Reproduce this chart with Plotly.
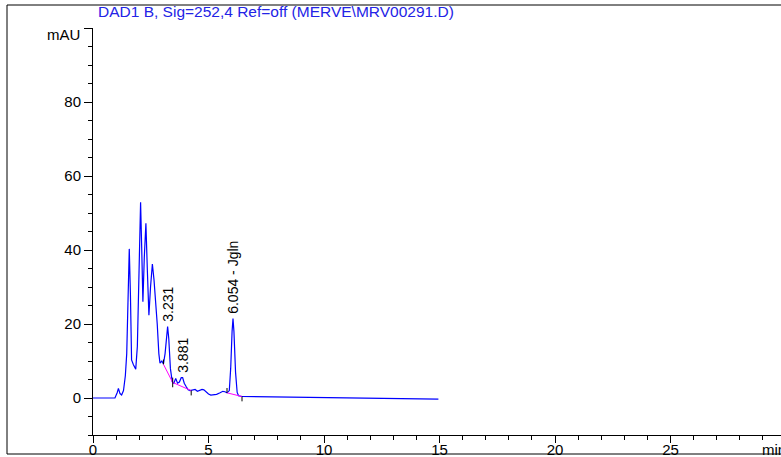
import plotly.graph_objects as go

# Chromatogram trace (retention time in min, signal in mAU)
time_min = [0.0, 0.95, 1.05, 1.10, 1.17, 1.24, 1.32, 1.40, 1.46, 1.52, 1.57, 1.62, 1.67, 1.75,
            1.85, 1.92, 2.00, 2.06, 2.11, 2.16, 2.22, 2.29, 2.35, 2.42, 2.49, 2.57, 2.64, 2.73,
            2.78, 2.85, 2.90, 2.98, 3.05, 3.12, 3.18, 3.23, 3.28, 3.35, 3.43, 3.50, 3.58, 3.66,
            3.74, 3.82, 3.88, 3.95, 4.03, 4.12, 4.20, 4.30, 4.42, 4.52, 4.63, 4.72, 4.80, 4.90,
            5.00, 5.10, 5.20, 5.35, 5.50, 5.62, 5.71, 5.80, 5.90, 5.96, 6.02, 6.06, 6.10, 6.17,
            6.24, 6.30, 6.45, 7.0, 8.0, 9.0, 10.0, 11.0, 12.0, 13.0, 14.0, 14.95]
signal_mau = [0.0, 0.0, 1.5, 2.6, 1.2, 0.8, 2.0, 6.0, 12.0, 30.0, 40.3, 28.0, 10.3, 9.0,
              7.8, 14.0, 35.0, 52.9, 40.0, 26.0, 38.0, 47.2, 35.0, 22.4, 30.0, 36.2, 32.0, 25.6,
              20.0, 12.0, 9.4, 10.0, 9.2, 12.0, 17.5, 19.3, 16.0, 8.0, 4.4, 4.0, 5.3, 4.0,
              4.3, 5.5, 5.5, 4.0, 3.1, 2.2, 2.0, 2.1, 2.3, 1.8, 2.0, 2.3, 2.2, 1.6,
              1.1, 0.8, 0.8, 1.0, 1.4, 1.8, 1.7, 1.4, 2.0, 8.0, 18.0, 21.5, 18.0, 7.0,
              1.5, 0.6, 0.4, 0.35, 0.3, 0.15, 0.05, 0.0, -0.1, -0.2, -0.25, -0.3]

# Integration baselines (magenta): start/end points of each baseline segment
base_t0 = [3.05, 3.45, 5.80]
base_v0 = [9.1, 4.2, 1.4]
base_t1 = [3.45, 4.25, 6.45]
base_v1 = [4.2, 2.0, 0.4]

# Labelled peaks
peak_rt = [3.231, 3.881, 6.054]
peak_height = [19.3, 5.5, 21.5]
peak_labels = ["3.231", "3.881", "6.054 - Jgln"]

title_text = "DAD1 B, Sig=252,4 Ref=off (MERVE\\MRV00291.D)"
y_tickvals = [0, 20, 40, 60, 80, 100]
y_ticktext = ["0", "20", "40", "60", "80", ""]
x_tickvals = [0, 5, 10, 15, 20, 25]

FONT = "Liberation Sans, Arial, sans-serif"

fig = go.Figure()

fig.add_trace(go.Scatter(x=time_min, y=signal_mau, mode="lines",
                         line=dict(color="#0000ff", width=1.2), hoverinfo="skip"))

# baselines
bx, by = [], []
for a, b, c, d in zip(base_t0, base_v0, base_t1, base_v1):
    bx += [a, c, None]
    by += [b, d, None]
fig.add_trace(go.Scatter(x=bx, y=by, mode="lines",
                         line=dict(color="#ff00ff", width=1), hoverinfo="skip"))

# small integration tick marks at baseline points
tx, ty = [], []
for a, b in zip(base_t0, base_v0):
    tx += [a, a, None]
    ty += [b, b + 1.3, None]
for a, b in zip(base_t1, base_v1):
    tx += [a, a, None]
    ty += [b, b - 1.3, None]
fig.add_trace(go.Scatter(x=tx, y=ty, mode="lines",
                         line=dict(color="#000000", width=1), hoverinfo="skip"))

for rt, h, lab in zip(peak_rt, peak_height, peak_labels):
    fig.add_annotation(x=rt, y=h, xref="x", yref="y", text=lab, showarrow=False,
                       textangle=-90, xanchor="center", yanchor="bottom", yshift=3,
                       font=dict(family=FONT, size=14, color="#000000"))

fig.add_annotation(x=(96 - 93) / 688, y=(435 - 12) / 407, xref="paper", yref="paper",
                   text=title_text, showarrow=False, xanchor="left", yanchor="middle",
                   font=dict(family=FONT, size=15.5, color="#2323e6"))
fig.add_annotation(x=(82 - 93) / 688, y=(435 - 35) / 407, xref="paper", yref="paper",
                   text="mAU", showarrow=False, xanchor="right", yanchor="middle",
                   font=dict(family=FONT, size=15, color="#000000"))
fig.add_annotation(x=(760 - 93) / 688, y=(435 - 449) / 407, xref="paper", yref="paper",
                   text="min", showarrow=False, xanchor="left", yanchor="middle",
                   font=dict(family=FONT, size=15, color="#000000"))

# outer frame
fig.add_shape(type="rect", xref="paper", yref="paper",
              x0=(7 - 93) / 688, x1=1.05, y0=(435 - 454) / 407, y1=(435 - 5) / 407,
              line=dict(color="#000000", width=1), fillcolor="rgba(0,0,0,0)", layer="above")

fig.update_xaxes(range=[0, 29.78], tickvals=x_tickvals, ticks="outside", ticklen=7,
                 tickcolor="#000", showline=True, linecolor="#000", linewidth=1,
                 showgrid=False, zeroline=False, automargin=False, ticklabelstandoff=-6,
                 minor=dict(dtick=1, ticks="outside", ticklen=4, tickcolor="#000", showgrid=False),
                 tickfont=dict(family=FONT, size=15, color="#000"))
fig.update_yaxes(range=[-10, 100], tickvals=y_tickvals, ticktext=y_ticktext,
                 ticks="outside", ticklen=8, tickcolor="#000",
                 showline=True, linecolor="#000", linewidth=1,
                 showgrid=False, zeroline=False, automargin=False,
                 minor=dict(dtick=5, ticks="outside", ticklen=4, tickcolor="#000", showgrid=False),
                 tickfont=dict(family=FONT, size=15, color="#000"))

fig.update_layout(width=781, height=457, margin=dict(l=93, r=0, t=28, b=22),
                  paper_bgcolor="white", plot_bgcolor="white", showlegend=False)

fig.write_html("out.html", config={"displayModeBar": False},
               post_script="document.body.style.margin='0';document.body.style.overflow='hidden';")
